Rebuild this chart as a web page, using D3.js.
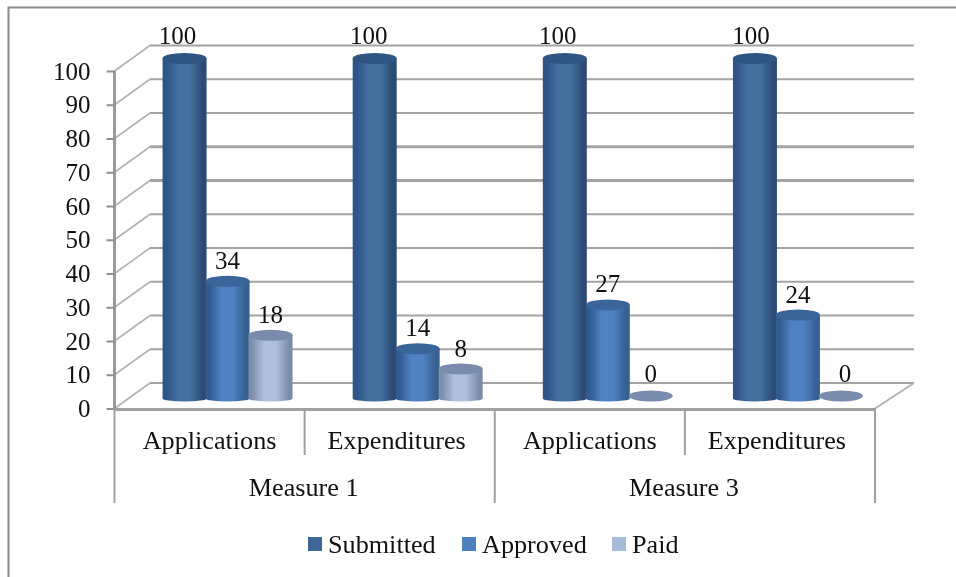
<!DOCTYPE html>
<html><head><meta charset="utf-8">
<script src="https://cdnjs.cloudflare.com/ajax/libs/d3/7.8.5/d3.min.js"></script>
<style>html,body{margin:0;padding:0;background:#fff}svg{display:block;filter:blur(0.45px)}text{font-family:"Liberation Serif",serif;fill:#111}</style>
</head><body><svg id="c" width="956" height="577"></svg>
<script>
const groups = ["Measure 1","Measure 3"];
const subCategories = ["Applications","Expenditures"];
const seriesNames = ["Submitted","Approved","Paid"];
const submitted = [100,100,100,100];
const approved = [34,14,27,24];
const paid = [18,8,0,0];
const yTicks = d3.range(0,101,10);
const seriesValues = [submitted,approved,paid];
const seriesColors = [
 {left:"#2f5488",edge:"#2b4a75",mid:"#44709f",top:"#2f5583",swatch:"#3f6797"},
 {left:"#315a8f",edge:"#35608f",mid:"#4f82c2",top:"#3a659b",swatch:"#4f81bd"},
 {left:"#7f8eaa",edge:"#7c8ba8",mid:"#afc0df",top:"#7a8cad",swatch:"#aabbd9"}];

const svg=d3.select("#c");
const L=114.5,R=875,Y0=408.5,Y100=71,DX=35.5,DY=-25.5;
const y=d3.scaleLinear().domain([0,100]).range([Y0,Y100]);
const xCat=d3.scaleBand().domain(d3.range(4)).range([L,R]);
const xSer=d3.scaleBand().domain(d3.range(3)).range([0,129]);
const grid="#a3a3a3";
const textSize=26.2, digitSize=25;

// frame
svg.append("path").attr("d","M8.5,577V7.5H956").attr("fill","none").attr("stroke","#8c8c8c").attr("stroke-width",2);

// gridlines: thin on the side wall, heavier on the back wall
const g=svg.append("g");
yTicks.forEach(t=>{
 const w=(t>=60&&t<=70)?3:2.2;
 g.append("line").attr("x1",L).attr("y1",y(t)).attr("x2",L+DX).attr("y2",y(t)+DY)
  .attr("stroke","#b2b2b2").attr("stroke-width",1.6);
 g.append("line").attr("x1",L+DX).attr("y1",y(t)+DY).attr("x2",R+DX+3.5).attr("y2",y(t)+DY)
  .attr("stroke",grid).attr("stroke-width",w);
});
g.append("line").attr("x1",R).attr("y1",Y0).attr("x2",R+DX+3.5).attr("y2",Y0+DY).attr("stroke","#b2b2b2").attr("stroke-width",2);

// y axis
const axis=d3.axisLeft(y).tickValues(yTicks).tickSize(8).tickPadding(16);
const ag=svg.append("g").attr("transform",`translate(${L},0)`).call(axis);
ag.selectAll("line").attr("stroke","#8f8f8f").attr("stroke-width",2);
ag.select(".domain").attr("d",`M0,${y(100)}V${Y0}`).attr("stroke","#9a9a9a").attr("stroke-width",3);
ag.selectAll("text").attr("font-family","Liberation Serif").attr("font-size",digitSize).attr("fill","#111");

// gradients
const defs=svg.append("defs");
seriesColors.forEach((c,i)=>{
 const lg=defs.append("linearGradient").attr("id","g"+i);
 [[0,c.left],[0.08,c.left],[0.36,c.mid],[0.62,c.mid],[0.92,c.edge],[1,c.edge]]
  .forEach(s=>lg.append("stop").attr("offset",s[0]).attr("stop-color",s[1]));
});

// bars
const base=y(0)-12.5, k=(y(0)-y(100))/100, RY=5.5;
const barW=xSer.bandwidth();
const RX=barW/2+0.5;
const labelNudge=[[-7,0,0,0],[-6,0,0,6],[-7,0,0,0],[-4,0,4,0]];
const centerOf=(c,s)=>xCat(c)+18+(xCat.bandwidth()-129)/2+xSer(s)+barW/2;
const bars=svg.append("g");
seriesValues.forEach((vals,s)=>{
 vals.forEach((v,c)=>{
  const cx=centerOf(c,s);
  const top=base-v*k;
  const gg=bars.append("g");
  if(v>0){
   gg.append("path")
    .attr("d",`M${cx-RX},${top}V${base+2.5}A${RX},3 0 0 0 ${cx+RX},${base+2.5}V${top}Z`)
    .attr("fill",`url(#g${s})`);
  }
  gg.append("ellipse").attr("cx",cx).attr("cy",top).attr("rx",RX).attr("ry",RY)
    .attr("fill",seriesColors[s].top);
 });
});
// value labels above bars
const labels=svg.append("g");
seriesValues.forEach((vals,s)=>vals.forEach((v,c)=>{
 labels.append("text").attr("x",centerOf(c,s)+labelNudge[c][s])
  .attr("y",base-v*k-(v===100?15:v===0?14:12.5))
  .attr("text-anchor","middle").attr("font-size",digitSize).text(v);
}));

// category axis
const cat=svg.append("g");
const tickStroke="#a0a0a0";
d3.range(5).forEach(i=>{
 const xx=i<4?xCat(i):R;
 const long=i%2===0;
 cat.append("line").attr("x1",xx).attr("x2",xx).attr("y1",Y0).attr("y2",long?503:455)
  .attr("stroke",tickStroke).attr("stroke-width",2);
});
cat.append("line").attr("x1",L).attr("x2",R).attr("y1",Y0+1).attr("y2",Y0+1).attr("stroke",tickStroke).attr("stroke-width",3);
d3.range(4).forEach(i=>{
 cat.append("text").attr("x",xCat(i)+xCat.bandwidth()/2-(i%2?3:0)).attr("y",449).attr("text-anchor","middle")
  .attr("font-size",textSize).text(subCategories[i%2]);
});
groups.forEach((n,i)=>{
 cat.append("text").attr("x",xCat(i*2)+xCat.bandwidth()-1).attr("y",496).attr("text-anchor","middle")
  .attr("font-size",textSize).text(n);
});

// legend
const legX=d3.scaleOrdinal().domain(seriesNames).range([308,462,612]);
const leg=svg.append("g");
seriesNames.forEach((n,i)=>{
 leg.append("rect").attr("x",legX(n)).attr("y",537).attr("width",14).attr("height",14).attr("fill",seriesColors[i].swatch);
 leg.append("text").attr("x",legX(n)+20).attr("y",553).attr("font-size",textSize).text(n);
});
</script></body></html>
